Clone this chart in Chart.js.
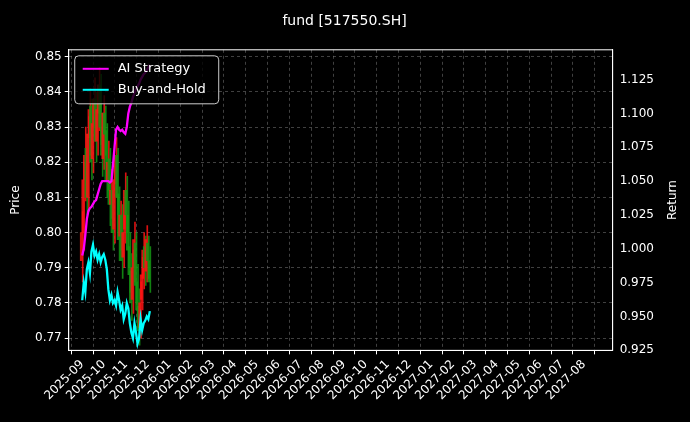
<!DOCTYPE html>
<html>
<head>
<meta charset="utf-8">
<script src="https://cdn.jsdelivr.net/npm/chart.js@4.4.1/dist/chart.umd.min.js"></script>
<style>
  body { margin: 0; background: #000; }
  #wrap { width: 690px; height: 422px; }
</style>
</head>
<body>
<div id="wrap"><canvas id="c"></canvas></div>
<script>
// month tick labels
const monthLabels = ['2025-09','2025-10','2025-11','2025-12','2026-01','2026-02','2026-03','2026-04','2026-05','2026-06','2026-07','2026-08','2026-09','2026-10','2026-11','2026-12','2027-01','2027-02','2027-03','2027-04','2027-05','2027-06','2027-07','2027-08'];
const priceTicks = [0.77,0.78,0.79,0.80,0.81,0.82,0.83,0.84,0.85];
const returnTicks = [0.925,0.950,0.975,1.000,1.025,1.050,1.075,1.100,1.125];

// price candles (open / close / low / high)
const opens  = [0.792,0.800,0.815,0.824,0.810,0.827,0.836,0.821,0.830,0.838,0.826,0.834,0.842,0.830,0.821,0.834,0.829,0.815,0.821,0.808,0.812,0.801,0.814,0.822,0.811,0.799,0.805,0.793,0.801,0.812,0.805,0.796,0.789,0.781,0.790,0.797,0.786,0.779,0.773,0.781,0.787,0.796,0.789,0.797,0.792];
const closes = [0.800,0.815,0.822,0.810,0.828,0.835,0.820,0.831,0.838,0.826,0.835,0.842,0.830,0.822,0.834,0.828,0.815,0.820,0.808,0.812,0.800,0.815,0.822,0.810,0.798,0.805,0.792,0.800,0.812,0.805,0.795,0.788,0.780,0.790,0.798,0.785,0.778,0.772,0.780,0.788,0.795,0.790,0.798,0.792,0.786];
const lows   = [0.786,0.795,0.809,0.805,0.806,0.822,0.815,0.817,0.826,0.820,0.822,0.829,0.825,0.816,0.818,0.822,0.810,0.812,0.802,0.804,0.795,0.797,0.810,0.805,0.792,0.795,0.787,0.790,0.797,0.800,0.790,0.783,0.775,0.777,0.786,0.780,0.773,0.768,0.770,0.778,0.784,0.785,0.786,0.787,0.783];
const highs  = [0.806,0.820,0.830,0.828,0.833,0.841,0.838,0.836,0.844,0.840,0.840,0.847,0.845,0.834,0.839,0.836,0.831,0.826,0.824,0.818,0.815,0.819,0.827,0.824,0.813,0.809,0.808,0.805,0.817,0.816,0.809,0.800,0.794,0.795,0.803,0.800,0.791,0.784,0.786,0.793,0.800,0.799,0.802,0.799,0.796];

// strategy returns
const aiReturn  = [0.995,1.000,1.010,1.022,1.028,1.030,1.031,1.033,1.035,1.036,1.040,1.044,1.048,1.050,1.050,1.050,1.050,1.050,1.049,1.050,1.062,1.075,1.088,1.090,1.088,1.087,1.088,1.086,1.085,1.090,1.100,1.105,1.108,1.112,1.115,1.118,1.120,1.122,1.125,1.127,1.129,1.130,1.132,1.134,1.136];
const bhReturn  = [0.962,0.975,0.968,0.985,0.990,0.982,0.998,1.003,0.995,0.998,0.992,0.996,0.990,0.994,0.996,0.992,0.985,0.970,0.962,0.966,0.960,0.962,0.958,0.968,0.962,0.955,0.958,0.948,0.952,0.960,0.956,0.945,0.938,0.934,0.945,0.938,0.930,0.934,0.948,0.940,0.945,0.947,0.950,0.948,0.954];

// trading days spread over ~3.1 months from 2025-09-01
const xs = closes.map((_, i) => i * 3.1 / (closes.length - 1));

const up = 'rgba(255,20,20,0.85)', down = 'rgba(20,150,20,0.85)';
const candleColors = closes.map((c, i) => c >= opens[i] ? up : down);

const legendItems = [{ label: 'AI Strategy', color: '#ff00ff' }, { label: 'Buy-and-Hold', color: '#00ffff' }];
const FONT = '"DejaVu Sans"';

const decorPlugin = {
  id: 'decor',
  afterDraw(chart) {
    const ctx = chart.ctx, a = chart.chartArea;
    ctx.save();
    // frame
    ctx.strokeStyle = '#fff'; ctx.lineWidth = 1;
    ctx.strokeRect(a.left, a.top, a.right - a.left, a.bottom - a.top);
    // axis titles
    ctx.fillStyle = '#fff';
    ctx.font = '12px ' + FONT;
    ctx.textAlign = 'center'; ctx.textBaseline = 'middle';
    const my = (a.top + a.bottom) / 2;
    ctx.save(); ctx.translate(16, my); ctx.rotate(-Math.PI / 2); ctx.fillText('Price', 0, 0); ctx.restore();
    ctx.save(); ctx.translate(673, my); ctx.rotate(-Math.PI / 2); ctx.fillText('Return', 0, 0); ctx.restore();
    // legend
    const x = a.left + 6, y = a.top + 6, w = 144, h = 48;
    ctx.fillStyle = 'rgba(0,0,0,0.8)';
    ctx.strokeStyle = '#cccccc';
    ctx.beginPath(); ctx.roundRect(x, y, w, h, 4); ctx.fill(); ctx.stroke();
    ctx.font = '13px ' + FONT;
    ctx.textAlign = 'left';
    legendItems.forEach((it, i) => {
      const ly = y + 13 + i * 21;
      ctx.strokeStyle = it.color; ctx.lineWidth = 2;
      ctx.beginPath(); ctx.moveTo(x + 8, ly); ctx.lineTo(x + 34, ly); ctx.stroke();
      ctx.fillStyle = '#fff';
      ctx.fillText(it.label, x + 43, ly);
    });
    ctx.restore();
  }
};

const gridColor = 'rgba(128,128,128,0.5)';
const tickFont = { family: 'DejaVu Sans', size: 12 };

new Chart(document.getElementById('c'), {
  data: {
    datasets: [
      { type: 'bar', data: xs.map((x, i) => ({ x, y: [lows[i], highs[i]] })), backgroundColor: candleColors, barThickness: 1, yAxisID: 'y', order: 3 },
      { type: 'bar', data: xs.map((x, i) => ({ x, y: [opens[i], closes[i]] })), backgroundColor: candleColors, barThickness: 2, yAxisID: 'y', order: 2 },
      { type: 'line', data: xs.map((x, i) => ({ x, y: aiReturn[i] })), borderColor: '#ff00ff', borderWidth: 2.3, pointRadius: 0, yAxisID: 'y1', order: 1 },
      { type: 'line', data: xs.map((x, i) => ({ x, y: bhReturn[i] })), borderColor: '#00ffff', borderWidth: 2.3, pointRadius: 0, yAxisID: 'y1', order: 0 }
    ]
  },
  options: {
    responsive: true,
    maintainAspectRatio: false,
    animation: false,
    layout: { padding: { left: 32, right: 33, top: 9, bottom: 16 } },
    plugins: {
      legend: { display: false },
      tooltip: { enabled: false },
      title: { display: true, text: 'fund [517550.SH]', color: '#fff', font: { family: 'DejaVu Sans', size: 14, weight: 'normal' }, padding: { top: 4, bottom: 20 } }
    },
    scales: {
      x: {
        type: 'linear', min: -0.1, max: 23.8,
        afterBuildTicks: s => { s.ticks = monthLabels.map((_, i) => ({ value: i })); },
        grid: { color: gridColor, tickColor: '#fff', tickLength: 4 },
        border: { color: '#fff', dash: [3, 3] },
        ticks: {
          color: '#fff', font: tickFont, autoSkip: false, maxRotation: 45, minRotation: 45,
          callback: v => monthLabels[v] ?? ''
        }
      },
      y: {
        position: 'left', min: 0.7665, max: 0.852,
        afterBuildTicks: s => { s.ticks = priceTicks.map(v => ({ value: v })); },
        grid: { color: gridColor, tickColor: '#fff', tickLength: 4 },
        border: { color: '#fff', dash: [3, 3] },
        ticks: { color: '#fff', font: tickFont, callback: v => v.toFixed(2) }
      },
      y1: {
        position: 'right', min: 0.925, max: 1.147,
        afterBuildTicks: s => { s.ticks = returnTicks.map(v => ({ value: v })); },
        grid: { display: false, tickColor: '#fff', tickLength: 4 },
        border: { color: '#fff' },
        ticks: { color: '#fff', font: tickFont, callback: v => v.toFixed(3) }
      }
    }
  },
  plugins: [decorPlugin]
});
</script>
</body>
</html>
